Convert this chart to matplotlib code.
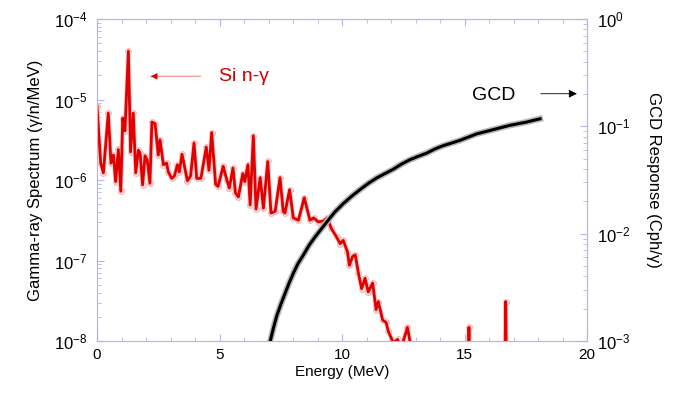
import numpy as np
import matplotlib.pyplot as plt
import matplotlib.patheffects as pe
from matplotlib.ticker import LogLocator, LogFormatterSciNotation, MultipleLocator

plt.rcParams['font.family'] = ['Liberation Sans', 'DejaVu Sans']
plt.rcParams['mathtext.default'] = 'regular'

# gamma-ray spectrum: energy (MeV), log10 of value (gamma/n/MeV)
spec_e = [0.00, 0.15, 0.26, 0.46, 0.57, 0.67, 0.76, 0.87, 0.97, 1.05, 1.14, 1.28,
          1.37, 1.48, 1.58, 1.69, 1.76, 1.86, 1.96, 2.05, 2.16, 2.24, 2.37, 2.50,
          2.57, 2.71, 2.84, 2.91, 3.05, 3.16, 3.28, 3.36, 3.47, 3.69, 3.82, 3.96,
          4.07, 4.24, 4.46, 4.57, 4.68, 4.84, 4.94, 5.15, 5.30, 5.40, 5.55, 5.65,
          5.77, 5.95, 6.03, 6.16, 6.25, 6.38, 6.49, 6.66, 6.79, 6.97, 7.10, 7.27,
          7.47, 7.60, 7.67, 7.86, 8.01, 8.22, 8.46, 8.69, 8.84, 9.03, 9.24, 9.40,
          9.56, 9.78, 9.92, 10.05, 10.22, 10.30, 10.43, 10.54, 10.67, 10.80, 10.94,
          11.07, 11.25, 11.39, 11.48, 11.66, 11.80, 11.89, 12.09, 12.27, 12.40,
          12.67, 12.80, 13.00, 14.00, 15.08, 15.18, 15.28, 16.58, 16.68, 16.78, 18.00]
spec_log = [-5.08, -5.79, -5.91, -5.17, -5.79, -5.69, -6.02, -5.62, -6.14, -5.23, -5.39, -4.40,
            -5.65, -5.17, -5.91, -5.63, -5.67, -6.06, -5.70, -5.75, -6.04, -5.28, -5.30, -5.69,
            -5.50, -5.81, -5.79, -5.90, -5.98, -5.95, -5.81, -5.90, -5.68, -6.01, -5.95, -5.54,
            -5.98, -5.98, -5.59, -5.88, -5.41, -6.05, -6.08, -5.83, -6.00, -6.10, -5.85, -6.16,
            -6.21, -5.92, -6.02, -5.81, -6.31, -5.45, -6.36, -5.97, -6.35, -5.77, -6.41, -6.39,
            -5.97, -6.39, -6.41, -6.12, -6.47, -6.50, -6.22, -6.50, -6.47, -6.52, -6.51, -6.47,
            -6.60, -6.71, -6.79, -6.75, -6.89, -7.06, -6.95, -6.93, -7.16, -7.35, -7.22,
            -7.39, -7.28, -7.61, -7.51, -7.74, -7.77, -7.88, -8.02, -7.98, -8.10,
            -7.83, -8.05, -9.0, -10.0, -10.0, -7.83, -10.0, -10.0, -7.51, -10.0, -10.0]

# GCD response: energy (MeV), log10 of response (Cph/gamma)
gcd_e = [6.95, 7.06, 7.20, 7.33, 7.50, 7.67, 7.84, 8.01, 8.20, 8.42, 8.65, 8.90, 9.14,
         9.38, 9.70, 10.05, 10.40, 10.73, 11.08, 11.42, 11.75, 12.09, 12.44, 12.78,
         13.10, 13.45, 13.80, 14.13, 14.48, 14.82, 15.16, 15.50, 15.84, 16.18, 16.52,
         16.86, 17.20, 17.54, 17.80, 18.08]
gcd_log = [-3.10, -3.01, -2.88, -2.77, -2.66, -2.56, -2.46, -2.37, -2.28, -2.20, -2.11,
           -2.03, -1.96, -1.89, -1.80, -1.72, -1.65, -1.59, -1.53, -1.48, -1.44, -1.40,
           -1.35, -1.31, -1.28, -1.25, -1.21, -1.18, -1.155, -1.13, -1.10, -1.07, -1.05,
           -1.03, -1.01, -0.99, -0.975, -0.96, -0.945, -0.93]

spine_col = '#b4b4ee'

fig = plt.figure(figsize=(6.89, 4.01), dpi=100)
ax = fig.add_axes([0.1408, 0.1496, 0.7112, 0.803])
ax2 = ax.twinx()

spec = 10.0 ** np.array(spec_log)
# pink marker halos behind the red line
ax.plot(spec_e, spec, ls='none', marker='o', ms=4.2, mfc='#fbe4e4', mec='#f2aaaa',
        mew=0.6, zorder=2)
ax.plot(spec_e, spec, color='#e00000', lw=2.0, zorder=3,
        path_effects=[pe.withStroke(linewidth=3.4, foreground='#f8cccc')])
ax.set_yscale('log')
ax.set_ylim(1e-8, 1e-4)
ax.set_xlim(0, 20)

gcd = 10.0 ** np.array(gcd_log)
ax2.plot(gcd_e, gcd, color='black', lw=2.2,
         path_effects=[pe.withStroke(linewidth=4.5, foreground='#b8b8b8')])
ax2.set_yscale('log')
ax2.set_ylim(1e-3, 1)

for a in (ax, ax2):
    for s in a.spines.values():
        s.set_color(spine_col)

ax.xaxis.set_major_locator(MultipleLocator(5))
ax.xaxis.set_minor_locator(MultipleLocator(1))
ax.tick_params(axis='x', which='both', direction='in', top=True, color=spine_col,
               labelsize=11)
ax.tick_params(axis='x', which='major', length=5, pad=5)
ax.tick_params(axis='x', which='minor', length=3)
ax.tick_params(axis='y', which='both', direction='in', right=False, color=spine_col,
               labelsize=12)
ax.tick_params(axis='y', which='major', length=5, pad=7)
ax.tick_params(axis='y', which='minor', length=3)
ax.yaxis.set_major_locator(LogLocator(base=10, numticks=10))
ax.yaxis.set_major_formatter(LogFormatterSciNotation())

ax2.tick_params(axis='y', which='both', direction='in', color=spine_col, labelsize=12)
ax2.tick_params(axis='y', which='major', length=5, pad=7)
ax2.tick_params(axis='y', which='minor', length=3)

ax.set_xlabel('Energy (MeV)', fontsize=11, labelpad=2)
ax.set_ylabel('Gamma-ray Spectrum (γ/n/MeV)', fontsize=12, labelpad=8)
ax2.set_ylabel('GCD Response (Cph/γ)', fontsize=12, rotation=270, labelpad=22)

ax.text(0.249, 0.822, 'Si n-γ', transform=ax.transAxes, color='#d00000',
        fontsize=14, va='center', ha='left')
ax.annotate('', xy=(0.104, 0.822), xytext=(0.217, 0.822), xycoords='axes fraction',
            arrowprops=dict(arrowstyle='-', color='#f4a0a0', lw=1.0))
ax.annotate('', xy=(0.104, 0.822), xytext=(0.217, 0.822), xycoords='axes fraction',
            arrowprops=dict(arrowstyle='-|>', color='#d00000', lw=0.01,
                            mutation_scale=12))

ax2.text(0.765, 0.764, 'GCD', transform=ax2.transAxes, color='black',
         fontsize=14, va='center', ha='left')
ax2.annotate('', xy=(0.985, 0.768), xytext=(0.9, 0.768), xycoords='axes fraction',
             arrowprops=dict(arrowstyle='-|>', color='black', lw=0.6,
                             mutation_scale=12))

fig.savefig('out.png', dpi=100)
